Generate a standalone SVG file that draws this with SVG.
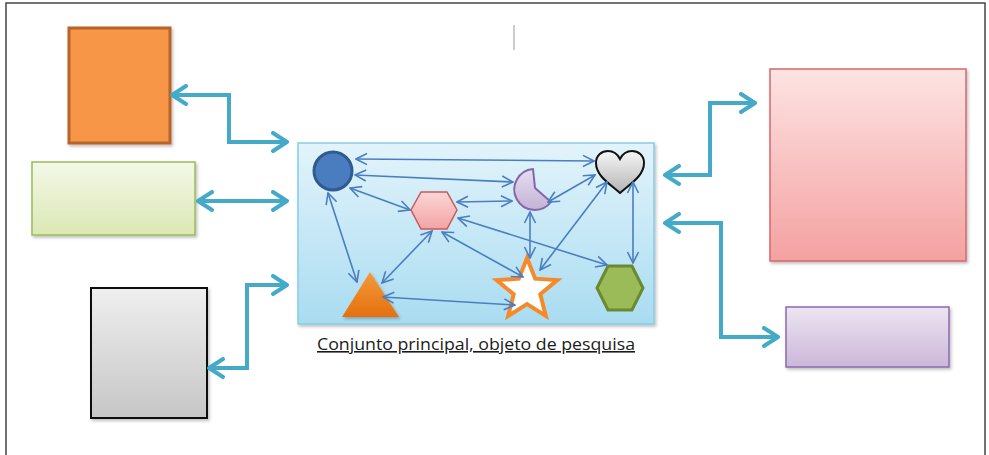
<svg xmlns="http://www.w3.org/2000/svg" width="989" height="455" viewBox="0 0 989 455">
<style>
.teal{fill:none;stroke:#45a9c8;stroke-width:4;stroke-linejoin:miter;marker-start:url(#ta);marker-end:url(#ta)}
.blue{fill:none;stroke:#4a7ec2;stroke-width:1.6;marker-start:url(#ba);marker-end:url(#ba)}
.cap{font-family:"Open Sans","Liberation Sans",sans-serif;font-size:16px;fill:#1a1a1a;text-decoration:underline}
</style>
<defs>
<marker id="ta" viewBox="0 0 20 22" refX="18" refY="11" markerWidth="20" markerHeight="22" markerUnits="userSpaceOnUse" orient="auto-start-reverse">
<path d="M4,2 L18,11 L4,20" fill="none" stroke="#45a9c8" stroke-width="4" stroke-linecap="round" stroke-linejoin="round"/>
</marker>
<marker id="ba" viewBox="0 0 14 14" refX="13" refY="7" markerWidth="14" markerHeight="14" markerUnits="userSpaceOnUse" orient="auto-start-reverse">
<path d="M2,1.5 L13,7 L2,12.5" fill="none" stroke="#4a7ec2" stroke-width="1.6"/>
</marker>
<linearGradient id="gGreen" x1="0" y1="0" x2="0" y2="1"><stop offset="0" stop-color="#f4f8e8"/><stop offset="1" stop-color="#dbe8b4"/></linearGradient>
<linearGradient id="gGray" x1="0" y1="0" x2="0" y2="1"><stop offset="0" stop-color="#efefef"/><stop offset="1" stop-color="#c6c6c6"/></linearGradient>
<linearGradient id="gPink" x1="0" y1="0" x2="0" y2="1"><stop offset="0" stop-color="#fde3e3"/><stop offset="1" stop-color="#f4a1a1"/></linearGradient>
<linearGradient id="gPurple" x1="0" y1="0" x2="0" y2="1"><stop offset="0" stop-color="#ede5f2"/><stop offset="1" stop-color="#cbb7d9"/></linearGradient>
<linearGradient id="gMain" x1="0" y1="0" x2="0" y2="1"><stop offset="0" stop-color="#e3f4fb"/><stop offset="1" stop-color="#a9dcf1"/></linearGradient>
<linearGradient id="gHex" x1="0" y1="0" x2="0" y2="1"><stop offset="0" stop-color="#fcd6d6"/><stop offset="1" stop-color="#f3a3a3"/></linearGradient>
<linearGradient id="gMoon" x1="0" y1="0" x2="0" y2="1"><stop offset="0" stop-color="#e6def0"/><stop offset="1" stop-color="#c3b2d6"/></linearGradient>
<linearGradient id="gHeart" x1="0" y1="0" x2="0" y2="1"><stop offset="0" stop-color="#f6f6f6"/><stop offset="1" stop-color="#b4b4b4"/></linearGradient>
<linearGradient id="gTri" x1="0" y1="0" x2="0" y2="1"><stop offset="0" stop-color="#f39a3c"/><stop offset="1" stop-color="#e5700e"/></linearGradient>
<filter id="sh" x="-10%" y="-10%" width="130%" height="130%"><feDropShadow dx="1.5" dy="2" stdDeviation="1.5" flood-color="#000" flood-opacity="0.25"/></filter>
</defs>
<rect x="6" y="3" width="979" height="470" fill="#ffffff" stroke="#444" stroke-width="1.5"/>
<line x1="514" y1="25" x2="514" y2="50" stroke="#bdbdbd" stroke-width="1.5"/>

<g id="orange-box"><rect x="69" y="28" width="101" height="115" fill="#f79646" stroke="#b8642a" stroke-width="3" filter="url(#sh)"/></g>
<g id="green-box"><rect x="32" y="162" width="163" height="73" fill="url(#gGreen)" stroke="#9bbb59" stroke-width="1.5" filter="url(#sh)"/></g>
<g id="gray-box"><rect x="91" y="288" width="116" height="130" fill="url(#gGray)" stroke="#111" stroke-width="2" filter="url(#sh)"/></g>
<g id="pink-box"><rect x="770" y="69" width="196" height="192" fill="url(#gPink)" stroke="#d46a6c" stroke-width="1.5" filter="url(#sh)"/></g>
<g id="purple-box"><rect x="786" y="307" width="163" height="60" fill="url(#gPurple)" stroke="#8a6aae" stroke-width="1.5" filter="url(#sh)"/></g>

<g id="main-set">
<rect x="298" y="143" width="356" height="181" fill="url(#gMain)" stroke="#86cbe6" stroke-width="1.5" filter="url(#sh)"/>
<g id="circle"><circle cx="333" cy="171" r="19" fill="#4a7cc0" stroke="#2f5b8e" stroke-width="3"/></g>
<g id="pink-hex"><polygon points="411,210 421,192 447,192 457,210 447,229 421,229" fill="url(#gHex)" stroke="#c9595a" stroke-width="1.5"/></g>
<g id="moon"><path d="M533,169 A20.5,20.5 0 1,0 551,202 L535,188 Z" fill="url(#gMoon)" stroke="#8466a8" stroke-width="2" stroke-linejoin="round"/></g>
<g id="heart"><path d="M620,193 C610,184 596,176 596,163 C596,155 602,151 608,151 C614,151 618,155 620,159 C622,155 626,151 632,151 C638,151 644,155 644,163 C644,176 630,184 620,193 Z" fill="url(#gHeart)" stroke="#111" stroke-width="2"/></g>
<g id="triangle"><polygon points="370,272 399,317 342,317" fill="url(#gTri)" filter="url(#sh)"/></g>
<g id="star"><polygon points="527,258 535.2,278.7 557.4,280.1 540.3,294.3 545.8,315.9 527,304 508.2,315.9 513.7,294.3 496.6,280.1 518.8,278.7" fill="#ffffff" stroke="#f48a2a" stroke-width="4"/></g>
<g id="green-hex"><polygon points="597,288 608,266 632,266 643,288 632,310 608,310" fill="#9bbb59" stroke="#698a30" stroke-width="3"/></g>
</g>

<g id="connectors">
<path class="teal" d="M172,95 H229 V142 H287"/>
<path class="teal" d="M198,201 H287"/>
<path class="teal" d="M209,368 H247 V285 H287"/>
<path class="teal" d="M665,175 H710 V103 H755"/>
<path class="teal" d="M665,223 H721 V337 H778"/>

<line class="blue" x1="356" y1="159" x2="594" y2="161"/>
<line class="blue" x1="355" y1="175" x2="513" y2="182"/>
<line class="blue" x1="350" y1="188" x2="410" y2="210"/>
<line class="blue" x1="328" y1="193" x2="357" y2="282"/>
<line class="blue" x1="457" y1="202" x2="512" y2="201"/>
<line class="blue" x1="548" y1="202" x2="595" y2="175"/>
<line class="blue" x1="432" y1="231" x2="382" y2="283"/>
<line class="blue" x1="442" y1="232" x2="523" y2="277"/>
<line class="blue" x1="458" y1="218" x2="607" y2="265"/>
<line class="blue" x1="530" y1="212" x2="530" y2="258"/>
<line class="blue" x1="607" y1="182" x2="540" y2="270"/>
<line class="blue" x1="633" y1="182" x2="633" y2="263"/>
<line class="blue" x1="383" y1="297" x2="515" y2="305"/>
</g>

<text class="cap" x="476" y="350" text-anchor="middle" textLength="318" lengthAdjust="spacingAndGlyphs">Conjunto principal, objeto de pesquisa</text>
</svg>
